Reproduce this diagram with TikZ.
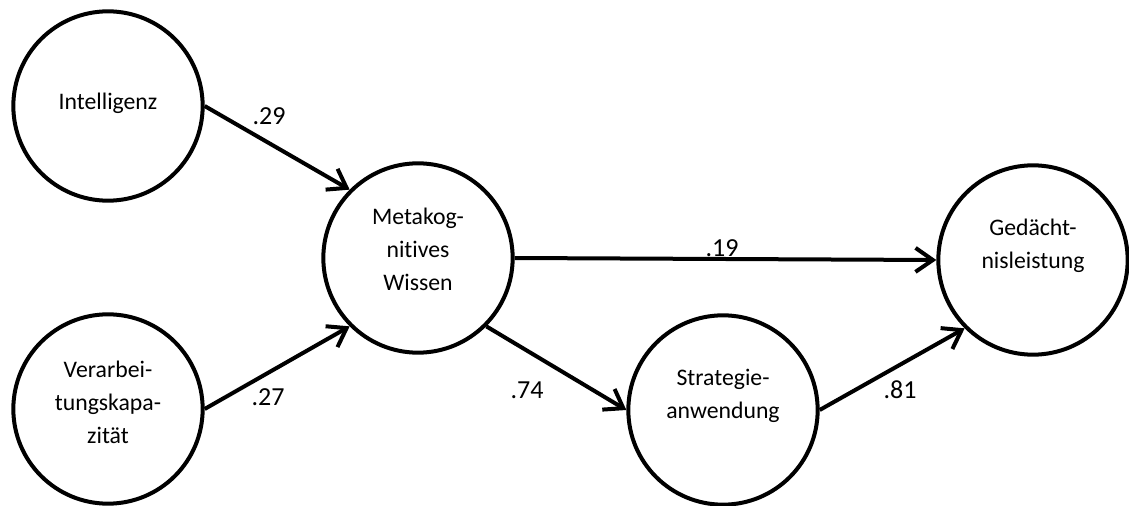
\documentclass[tikz,border=0pt]{standalone}
\usepackage{fontspec}
\setmainfont{Carlito}[Ligatures=NoCommon]
\usetikzlibrary{arrows.meta}
\begin{document}
\begin{tikzpicture}[x=0.75pt,y=-0.75pt,
  latent/.style={circle,draw,line width=3pt,minimum size=142pt,inner sep=0pt},
  vartext/.style={align=center,inner sep=0pt,font=\fontsize{17.8}{25}\selectfont},
  effect/.style={line width=3pt,-{Straight Barb[length=13pt,width=18pt]}},
  coef/.style={font=\fontsize{19.5}{22}\selectfont,inner sep=0pt}]
\useasboundingbox (0,0) rectangle (1129,506);

% latent variables
\node[latent] (intel) at (108,106) {};
\node[latent] (verarb) at (108,409) {};
\node[latent] (meta) at (418,258) {};
\node[latent] (strat) at (723,410) {};
\node[latent] (ged) at (1033,260) {};

% their names, set a little above the centre
\node[vartext] (intel-t) at ([yshift=2pt]intel.center) {Intelligenz};
\node[vartext] (verarb-t) at ([yshift=5pt]verarb.center) {Verarbei-\\tungskapa-\\zität};
\node[vartext] (meta-t) at ([yshift=6.5pt]meta.center) {Metakog-\\nitives\\Wissen};
\node[vartext] (strat-t) at ([yshift=10.5pt]strat.center) {Strategie-\\anwendung};
\node[vartext] (ged-t) at ([yshift=10.5pt]ged.center) {Gedächt-\\nisleistung};

% paths
\draw[effect] (intel.east) -- (meta.north west);
\draw[effect] (verarb.east) -- (meta.south west);
\draw[effect] (meta.east) -- (ged.west);
\draw[effect] (meta.south east) -- (strat.west);
\draw[effect] (strat.east) -- (ged.south west);

% path coefficients
\node[coef] (c29) at (269,116) {.29};
\node[coef] (c27) at (268,397) {.27};
\node[coef] (c19) at (722,248) {.19};
\node[coef] (c74) at (527,390) {.74};
\node[coef] (c81) at (900,390) {.81};
\end{tikzpicture}
\end{document}
